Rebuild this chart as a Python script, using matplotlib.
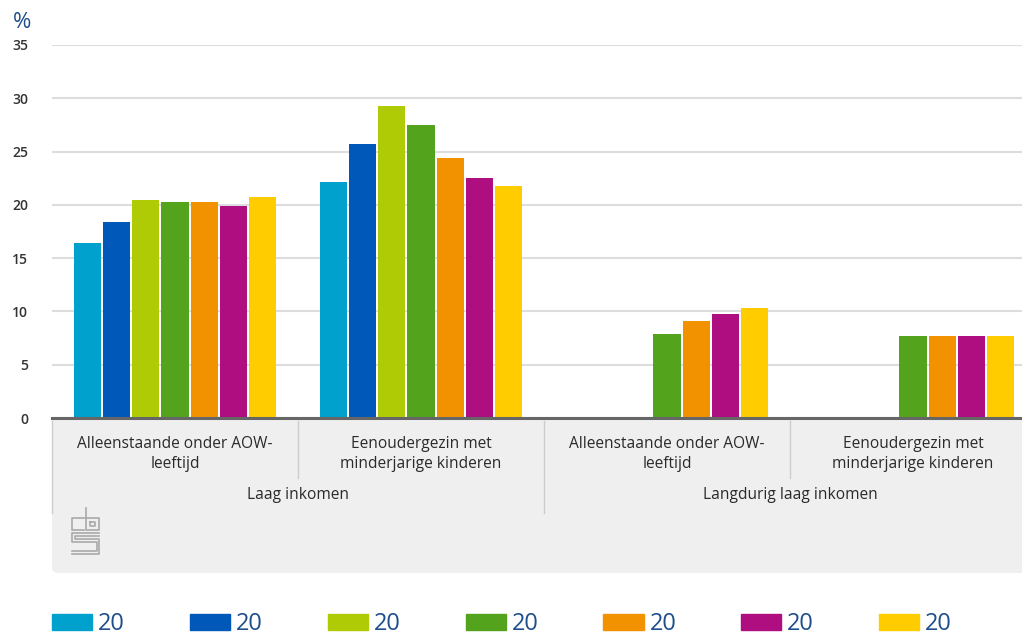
import numpy as np
import matplotlib
matplotlib.use("Agg")
import matplotlib.pyplot as plt
from matplotlib.patches import Rectangle, FancyBboxPatch
from matplotlib.lines import Line2D

plt.rcParams["font.family"] = ["Open Sans", "DejaVu Sans"]

# subgroups (x axis) and their parent groups
subcats = ["Alleenstaande onder AOW-\nleeftijd", "Eenoudergezin met\nminderjarige kinderen",
           "Alleenstaande onder AOW-\nleeftijd", "Eenoudergezin met\nminderjarige kinderen"]
groups = ["Laag inkomen", "Langdurig laag inkomen"]

series_labels = ["20", "20", "20", "20", "20", "20", "20"]
colors = ["#00A1CD", "#0058B8", "#AFCB05", "#53A31D", "#F39200", "#AF0E80", "#FFCC00"]

nan = np.nan
s1 = [16.4, 22.1, nan, nan]
s2 = [18.4, 25.7, nan, nan]
s3 = [20.5, 29.3, nan, nan]
s4 = [20.3, 27.5, 7.9, 7.7]
s5 = [20.3, 24.4, 9.1, 7.7]
s6 = [19.9, 22.5, 9.8, 7.7]
s7 = [20.7, 21.8, 10.3, 7.7]
series = [s1, s2, s3, s4, s5, s6, s7]

W, H = 1022, 633
fig = plt.figure(figsize=(W / 100, H / 100), dpi=100)

def fx(px):
    return px / W

def fy(py):
    return 1 - py / H

ax = fig.add_axes([fx(52), fy(418), fx(1036) - fx(52), fy(45) - fy(418)])
ax.set_zorder(2)
ax.patch.set_alpha(0)

x = np.arange(len(subcats))
pitch = 0.119
for i, (vals, c) in enumerate(zip(series, colors)):
    ax.bar(x + (i - 3) * pitch, vals, width=pitch - 0.008, color=c, zorder=3)

ax.set_xlim(-0.5, 3.5)
ax.set_ylim(0, 35)
ax.set_yticks(np.arange(0, 36, 5))
ax.yaxis.grid(True, color="#DDDDDD", lw=1.5, zorder=0)
ax.set_xticks([])
for s in ax.spines.values():
    s.set_visible(False)
ax.tick_params(axis="y", length=0, pad=17, labelsize=10, labelcolor="#333333")
for lbl in ax.get_yticklabels():
    lbl.set_fontweight("semibold")

# category panel below the axis
panel = FancyBboxPatch((fx(52), fy(573)), fx(1060) - fx(52), fy(418) - fy(573),
                       boxstyle="round,pad=0,rounding_size=0.008", transform=fig.transFigure,
                       facecolor="#EFEFEF", edgecolor="none", zorder=0)
fig.patches.append(panel)
fig.patches.append(Rectangle((fx(52), fy(500)), fx(1060) - fx(52), fy(418) - fy(500),
                             transform=fig.transFigure, facecolor="#EFEFEF",
                             edgecolor="none", zorder=0))
ax.axhline(0, color="#666666", lw=2.2, zorder=4, clip_on=False)

tr = ax.get_xaxis_transform()
def axy(py):
    # pixel row -> axes y fraction
    return (418 - py) / (418 - 45)

for xi, lab in zip(x, subcats):
    ax.text(xi, axy(454), lab, transform=tr, ha="center", va="center", fontsize=11.2,
            color="#2A2A2A", linespacing=1.4, clip_on=False)
for gi, lab in enumerate(groups):
    ax.text(gi * 2 + 0.5, axy(495), lab, transform=tr, ha="center", va="center",
            fontsize=11.2, color="#2A2A2A", clip_on=False)

# separators between subgroups and groups
for xs in [0.5, 2.5]:
    ax.add_line(Line2D([xs, xs], [axy(421), axy(478)], transform=tr, color="#CCCCCC",
                       lw=1, clip_on=False))
for xs in [-0.5, 1.5]:
    ax.add_line(Line2D([xs, xs], [axy(421), axy(513)], transform=tr, color="#CCCCCC",
                       lw=1, clip_on=False))

# small cbs mark in the panel
logo = "#AAAAAA"
def seg(xs, ys):
    fig.add_artist(Line2D([fx(v) for v in xs], [fy(v) for v in ys], color=logo, lw=1.2))
seg([84, 72, 72, 84], [518, 518, 530, 530])
seg([86, 86, 99, 99, 86], [508, 530, 530, 518, 518])
seg([90, 95, 95, 90, 90], [522, 522, 526, 526, 522])
seg([99, 72, 72, 97, 97, 72], [533, 533, 542, 542, 551, 551])
seg([99, 75, 75, 99, 99, 72], [536, 536, 539, 539, 554, 554])

# legend, partly cut off by the bottom edge
handles = [Rectangle((0, 0), 1, 1, color=c) for c in colors]
fig.legend(handles, series_labels, loc="upper left", bbox_to_anchor=(fx(52), fy(612)),
           ncol=7, frameon=False, fontsize=17, labelcolor="#1F4E8C",
           handlelength=1.7, handleheight=0.65, handletextpad=0.25, columnspacing=2.75,
           borderaxespad=0, borderpad=0)

fig.text(fx(13), fy(22), "%", fontsize=16, color="#1F4E8C", va="center", ha="left")

fig.savefig("out.png", dpi=100)
